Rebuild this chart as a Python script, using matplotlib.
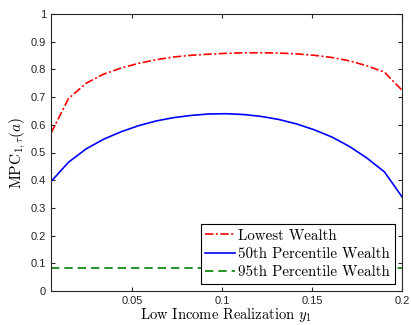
import numpy as np
import matplotlib.pyplot as plt

plt.rcParams['mathtext.fontset'] = 'cm'
plt.rcParams['axes.unicode_minus'] = False

# low income realization grid
y1 = np.linspace(0.005, 0.2, 21)

mpc_lowest = [0.57, 0.695, 0.75, 0.783, 0.805, 0.822, 0.835, 0.845, 0.851, 0.855, 0.858,
              0.86, 0.86, 0.859, 0.856, 0.851, 0.843, 0.831, 0.813, 0.79, 0.725]
mpc_p50 = [0.395, 0.465, 0.513, 0.548, 0.575, 0.597, 0.614, 0.626, 0.634, 0.639, 0.64,
           0.637, 0.63, 0.619, 0.603, 0.582, 0.556, 0.522, 0.48, 0.43, 0.34]
mpc_p95 = [0.082] * 21

fig = plt.figure(figsize=(4.11, 3.25), dpi=100)
ax = fig.add_axes([51 / 411, 34 / 325, 351 / 411, 277 / 325])

ax.plot(y1, mpc_lowest, color='red', ls=(0, (5, 1.5, 1.2, 1.5)), lw=1.2, label='Lowest Wealth')
ax.plot(y1, mpc_p50, color='blue', ls='-', lw=1.2, label='50th Percentile Wealth')
ax.plot(y1, mpc_p95, color='#008000', ls=(0, (5, 3)), lw=1.2, label='95th Percentile Wealth')

ax.set_xlim(0.005, 0.2)
ax.set_ylim(0, 1)
ax.set_xticks([0.05, 0.1, 0.15, 0.2])
ax.set_xticklabels(['0.05', '0.1', '0.15', '0.2'])
ax.set_yticks(np.arange(0, 1.01, 0.1))
ax.set_yticklabels(['0', '0.1', '0.2', '0.3', '0.4', '0.5', '0.6', '0.7', '0.8', '0.9', '1'])
ax.tick_params(direction='in', top=True, right=True, length=3, labelsize=8,
               colors='#262626', labelcolor='#262626')
for lab in ax.get_xticklabels() + ax.get_yticklabels():
    lab.set_family('Liberation Sans')
for s in ax.spines.values():
    s.set_color('#262626')
    s.set_linewidth(0.8)

ax.set_xlabel(r'Low Income Realization $y_1$', family='cmr10', fontsize=10.5, labelpad=0)
ax.set_ylabel(r'$\mathrm{MPC}_{1,\tau}(a)$', fontsize=11, labelpad=2)

leg = ax.legend(loc='lower right', prop={'family': 'cmr10', 'size': 10.8}, fancybox=False,
                framealpha=1, edgecolor='black', handlelength=2.0, handletextpad=0.2,
                labelspacing=0.3, borderpad=0.3, borderaxespad=0.5)
leg.get_frame().set_linewidth(0.8)

fig.savefig('out.png', dpi=100)
